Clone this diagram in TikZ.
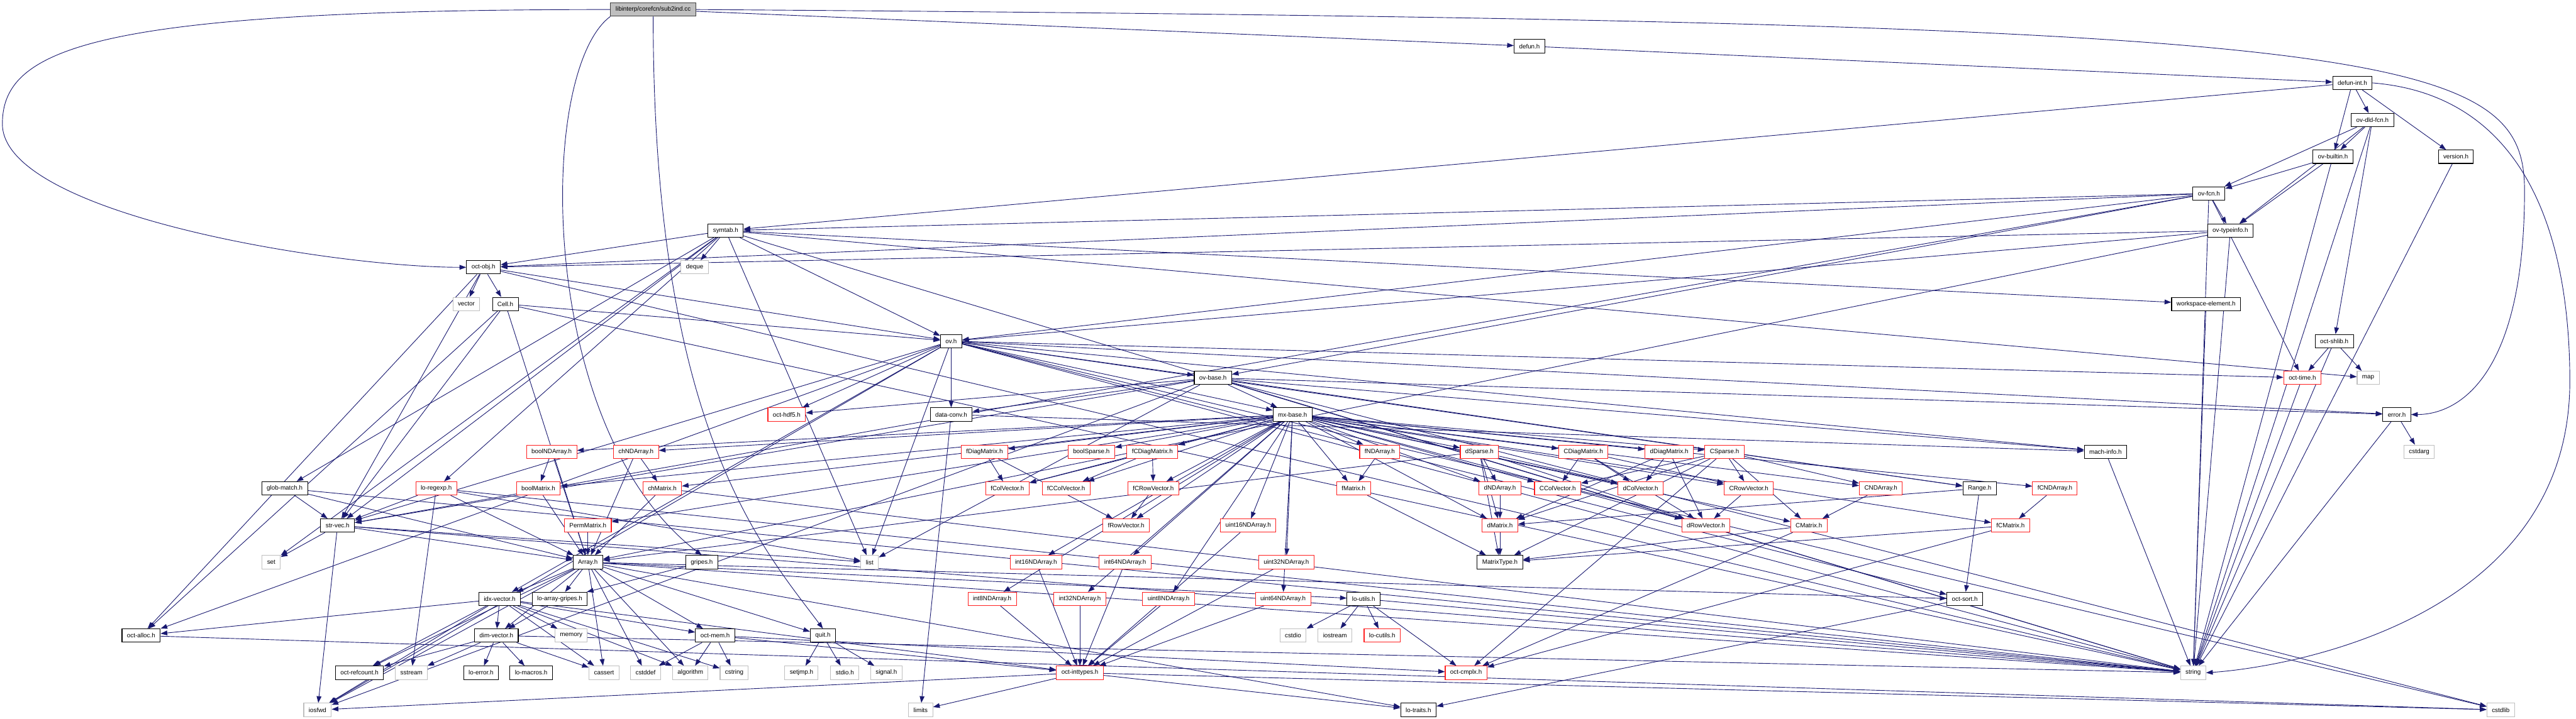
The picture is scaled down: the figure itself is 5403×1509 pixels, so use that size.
\documentclass[tikz,border=0pt]{standalone}
\usepackage{fontspec}
\newfontfamily\graphfont{Liberation Sans}
\usetikzlibrary{arrows.meta}
\definecolor{edgeblue}{HTML}{191970}
\definecolor{sysgrey}{HTML}{BFBFBF}
\definecolor{rootgrey}{HTML}{BFBFBF}
\definecolor{rootframe}{HTML}{404040}
\definecolor{truncred}{HTML}{FF2020}
\pgfdeclarelayer{background}
\pgfsetlayers{background,main}
\tikzset{
  hdr/.style={rectangle,draw=black,line width=1.4pt,fill=white,minimum height=28pt,inner xsep=10.5pt,inner ysep=0pt,font=\graphfont\fontsize{13}{15}\selectfont},
  trunc/.style={hdr,draw=truncred},
  sysh/.style={hdr,draw=sysgrey},
  rootfile/.style={hdr,fill=rootgrey,draw=rootframe},
  dep/.style={draw=edgeblue,line width=1.2pt,-{Triangle[length=14pt,width=10pt]}}
}
\begin{document}
\begin{tikzpicture}[x=1pt,y=-1pt]
  \useasboundingbox (0,0) rectangle (5403,1509);
  \node[rootfile] (root) at (1370,20) {libinterp/corefcn/sub2ind.cc};
  \node[hdr] (defun) at (3208,97) {defun.h};
  \node[hdr] (defunint) at (4934,174) {defun-int.h};
  \node[hdr] (ovdld) at (4976,252) {ov-dld-fcn.h};
  \node[hdr] (ovbuiltin) at (4893,329) {ov-builtin.h};
  \node[hdr] (version) at (5151,329) {version.h};
  \node[hdr] (ovfcn) at (4633,406) {ov-fcn.h};
  \node[hdr] (symtab) at (1522,484) {symtab.h};
  \node[hdr] (ovtypeinfo) at (4678,484) {ov-typeinfo.h};
  \node[hdr] (objh) at (1014,561) {oct-obj.h};
  \node[sysh] (deque) at (1457,561) {deque};
  \node[sysh] (vector) at (978,638) {vector};
  \node[hdr] (cell) at (1060,638) {Cell.h};
  \node[hdr] (workspace) at (4627,638) {workspace-element.h};
  \node[hdr] (ov) at (1995,716) {ov.h};
  \node[hdr] (octshlib) at (4896,716) {oct-shlib.h};
  \node[hdr] (ovbase) at (2544,793) {ov-base.h};
  \node[trunc] (octtime) at (4829,793) {oct-time.h};
  \node[sysh] (map) at (4967,793) {map};
  \node[trunc] (octhdf) at (1650,870) {oct-hdf5.h};
  \node[hdr] (dataconv) at (1995,870) {data-conv.h};
  \node[hdr] (mxbase) at (2711,870) {mx-base.h};
  \node[hdr] (error) at (5027,870) {error.h};
  \node[trunc] (boolNDArray) at (1157,948) {boolNDArray.h};
  \node[trunc] (chNDArray) at (1334,948) {chNDArray.h};
  \node[trunc] (fDiagMatrix) at (2065,948) {fDiagMatrix.h};
  \node[trunc] (boolSparse) at (2289,948) {boolSparse.h};
  \node[trunc] (fCDiagMatrix) at (2417,948) {fCDiagMatrix.h};
  \node[trunc] (fNDArray) at (2894,948) {fNDArray.h};
  \node[trunc] (dSparse) at (3103,948) {dSparse.h};
  \node[trunc] (CDiagMatrix) at (3321,948) {CDiagMatrix.h};
  \node[trunc] (dDiagMatrix) at (3501,948) {dDiagMatrix.h};
  \node[trunc] (CSparse) at (3617,948) {CSparse.h};
  \node[hdr] (machinfo) at (4416,948) {mach-info.h};
  \node[sysh] (cstdarg) at (5074,948) {cstdarg};
  \node[hdr] (globmatch) at (597,1025) {glob-match.h};
  \node[trunc] (loregexp) at (915,1025) {lo-regexp.h};
  \node[trunc] (boolMatrix) at (1129,1025) {boolMatrix.h};
  \node[trunc] (chMatrix) at (1389,1025) {chMatrix.h};
  \node[trunc] (fColVector) at (2113,1025) {fColVector.h};
  \node[trunc] (fCColVector) at (2236,1025) {fCColVector.h};
  \node[trunc] (fCRowVector) at (2419,1025) {fCRowVector.h};
  \node[trunc] (fMatrix) at (2839,1025) {fMatrix.h};
  \node[trunc] (dNDArray) at (3146,1025) {dNDArray.h};
  \node[trunc] (CColVector) at (3267,1025) {CColVector.h};
  \node[trunc] (dColVector) at (3441,1025) {dColVector.h};
  \node[trunc] (CRowVector) at (3668,1025) {CRowVector.h};
  \node[trunc] (CNDArray) at (3945,1025) {CNDArray.h};
  \node[hdr] (range) at (4152,1025) {Range.h};
  \node[trunc] (fCNDArray) at (4310,1025) {fCNDArray.h};
  \node[hdr] (strvec) at (708,1103) {str-vec.h};
  \node[trunc] (PermMatrix) at (1233,1103) {PermMatrix.h};
  \node[trunc] (fRowVector) at (2362,1103) {fRowVector.h};
  \node[trunc] (uintsixteen) at (2618,1103) {uint16NDArray.h};
  \node[trunc] (dMatrix) at (3146,1103) {dMatrix.h};
  \node[trunc] (dRowVector) at (3578,1103) {dRowVector.h};
  \node[trunc] (CMatrix) at (3794,1103) {CMatrix.h};
  \node[trunc] (fCMatrix) at (4217,1103) {fCMatrix.h};
  \node[sysh] (set) at (569,1180) {set};
  \node[hdr] (array) at (1233,1180) {Array.h};
  \node[hdr] (gripes) at (1472,1180) {gripes.h};
  \node[sysh] (list) at (1824,1180) {list};
  \node[trunc] (intsixteen) at (2173,1180) {int16NDArray.h};
  \node[trunc] (intsixtyfour) at (2360,1180) {int64NDArray.h};
  \node[trunc] (uintthirtytwo) at (2698,1180) {uint32NDArray.h};
  \node[hdr] (MatrixType) at (3146,1180) {MatrixType.h};
  \node[hdr] (idxvector) at (1048,1257) {idx-vector.h};
  \node[hdr] (loarraygripes) at (1174,1257) {lo-array-gripes.h};
  \node[trunc] (inteight) at (2081,1257) {int8NDArray.h};
  \node[trunc] (intthirtytwo) at (2265,1257) {int32NDArray.h};
  \node[trunc] (uinteight) at (2451,1257) {uint8NDArray.h};
  \node[trunc] (uintsixtyfour) at (2691,1257) {uint64NDArray.h};
  \node[hdr] (loutils) at (2860,1257) {lo-utils.h};
  \node[hdr] (octsort) at (4121,1257) {oct-sort.h};
  \node[hdr] (octalloc) at (296,1334) {oct-alloc.h};
  \node[hdr] (dimvector) at (1041,1334) {dim-vector.h};
  \node[sysh] (memory) at (1198,1334) {memory};
  \node[hdr] (octmem) at (1500,1334) {oct-mem.h};
  \node[hdr] (quit) at (1726,1334) {quit.h};
  \node[sysh] (cstdio) at (2712,1334) {cstdio};
  \node[sysh] (iostream) at (2800,1334) {iostream};
  \node[trunc] (locutils) at (2899,1334) {lo-cutils.h};
  \node[hdr] (octrefcount) at (754,1412) {oct-refcount.h};
  \node[sysh] (sstream) at (863,1412) {sstream};
  \node[hdr] (loerror) at (1009,1412) {lo-error.h};
  \node[hdr] (lomacros) at (1114,1412) {lo-macros.h};
  \node[sysh] (cassert) at (1267,1412) {cassert};
  \node[sysh] (cstddef) at (1354,1412) {cstddef};
  \node[sysh] (algorithm) at (1448,1412) {algorithm};
  \node[sysh] (cstring) at (1540,1412) {cstring};
  \node[sysh] (setjmp) at (1681,1412) {setjmp.h};
  \node[sysh] (stdioh) at (1772,1412) {stdio.h};
  \node[sysh] (signalh) at (1859,1412) {signal.h};
  \node[trunc] (octinttypes) at (2265,1412) {oct-inttypes.h};
  \node[trunc] (octcmplx) at (3075,1412) {oct-cmplx.h};
  \node[sysh] (string) at (4600,1412) {string};
  \node[sysh] (iosfwd) at (666,1490) {iosfwd};
  \node[sysh] (limits) at (1931,1490) {limits};
  \node[hdr] (lotraits) at (2975,1490) {lo-traits.h};
  \node[sysh] (cstdlib) at (5245,1490) {cstdlib};
  \coordinate (rbend) at (5295,400);
  \coordinate (lbend) at (5,260);
  \coordinate (sbend) at (5390,800);
  \begin{pgfonlayer}{background}
    \draw[dep] (root.east) .. controls (5000,45) and (5295,100) .. (rbend) .. controls (5295,800) and (5150,870) .. (error.east);
    \draw[dep] (root.west) .. controls (200,20) and (5,100) .. (lbend) .. controls (5,450) and (700,561) .. (objh.west);
    \draw[dep] (root.south west) .. controls (1125,150) and (1125,900) .. (gripes.north);
    \draw[dep] (root.south) .. controls (1370,900) and (1600,1150) .. (quit.north);
    \draw[dep] (defunint.east) .. controls (5300,200) and (5390,500) .. (sbend) .. controls (5390,1300) and (4800,1400) .. (string.east);
    \begin{scope}[every edge/.style={dep}]
      \path (root) edge (defun);
      \path (defun) edge (defunint);
      \path (defunint) edge (ovbuiltin) edge (ovdld) edge (version) edge (symtab);
      \path (ovdld) edge (ovfcn) edge (ovbuiltin) edge (ovtypeinfo) edge (octshlib) edge (string);
      \path (ovbuiltin) edge (ovfcn) edge (ovtypeinfo) edge (string);
      \path (version) edge (string);
      \path (ovfcn) edge (symtab) edge (objh) edge (ov) edge (strvec) edge (octtime) edge (ovtypeinfo) edge (ovbase) edge (string);
      \path (ovtypeinfo) edge (array) edge (objh) edge (ov) edge (string);
      \path (symtab) edge (deque) edge (list) edge (map) edge (set) edge (string) edge (globmatch) edge (loregexp) edge (strvec) edge (objh) edge (ov) edge (workspace);
      \path (workspace) edge (string);
      \path (octshlib) edge (octtime) edge (map) edge (string);
      \path (objh) edge (vector) edge (cell) edge (ov) edge (strvec) edge (octalloc) edge (string);
      \path (cell) edge (array) edge (ov) edge (strvec) edge (octalloc) edge (string);
      \path (ov) edge (ovbase) edge (dataconv) edge (mxbase) edge (octhdf) edge (octtime) edge (range) edge (idxvector) edge (machinfo) edge (strvec) edge (octalloc) edge (octsort) edge (string) edge (list) edge (iosfwd) edge (cstdlib) edge (error);
      \path (ovbase) edge (octhdf) edge (dataconv) edge (mxbase) edge (range) edge (strvec) edge (error) edge (machinfo) edge (string) edge (list) edge (iosfwd) edge (cstdlib);
      \path (dataconv) edge (limits) edge (machinfo);
      \path (mxbase) edge (boolMatrix) edge (boolNDArray) edge (chMatrix) edge (chNDArray) edge (fDiagMatrix) edge (boolSparse) edge (fCDiagMatrix) edge (fNDArray) edge (dSparse) edge (CDiagMatrix) edge (dDiagMatrix) edge (CSparse) edge (fColVector) edge (fCColVector) edge (fCRowVector) edge (fMatrix) edge (dNDArray) edge (CColVector) edge (dColVector) edge (CRowVector) edge (CNDArray) edge (fCNDArray) edge (PermMatrix) edge (fRowVector) edge (uintsixteen) edge (dMatrix) edge (dRowVector) edge (CMatrix) edge (fCMatrix) edge (intsixteen) edge (intsixtyfour) edge (uintthirtytwo) edge (inteight) edge (intthirtytwo) edge (uinteight) edge (uintsixtyfour);
      \path (error) edge (cstdarg) edge (string);
      \path (machinfo) edge (string);
      \path (octtime) edge (string);
      \path (boolNDArray) edge (boolMatrix) edge (array);
      \path (chNDArray) edge (chMatrix) edge (array);
      \path (boolMatrix) edge (array);
      \path (chMatrix) edge (array) edge (string);
      \path (PermMatrix) edge (array);
      \path (fDiagMatrix) edge (fColVector) edge (fRowVector);
      \path (fCDiagMatrix) edge (fColVector) edge (fCColVector) edge (fCRowVector);
      \path (fNDArray) edge (fMatrix);
      \path (dSparse) edge (dNDArray) edge (dMatrix) edge (dColVector) edge (dRowVector) edge (MatrixType) edge (array);
      \path (CDiagMatrix) edge (CColVector) edge (dColVector) edge (CRowVector) edge (dRowVector);
      \path (dDiagMatrix) edge (dColVector) edge (dRowVector) edge (dMatrix);
      \path (CSparse) edge (CMatrix) edge (CNDArray) edge (CColVector) edge (CRowVector) edge (dMatrix) edge (MatrixType) edge (octcmplx);
      \path (fMatrix) edge (MatrixType);
      \path (dNDArray) edge (dMatrix);
      \path (dMatrix) edge (MatrixType);
      \path (CRowVector) edge (dRowVector);
      \path (CNDArray) edge (CMatrix);
      \path (CMatrix) edge (MatrixType) edge (octcmplx);
      \path (fCNDArray) edge (fCMatrix);
      \path (fCMatrix) edge (MatrixType) edge (octcmplx);
      \path (fCRowVector) edge (fRowVector);
      \path (range) edge (octsort) edge (dMatrix);
      \path (octsort) edge (lotraits);
      \path (intsixteen) edge (octinttypes);
      \path (intsixtyfour) edge (octinttypes);
      \path (uintsixteen) edge (octinttypes);
      \path (uintthirtytwo) edge (octinttypes);
      \path (inteight) edge (octinttypes);
      \path (intthirtytwo) edge (octinttypes);
      \path (uinteight) edge (octinttypes);
      \path (uintsixtyfour) edge (octinttypes);
      \path (loregexp) edge (strvec) edge (array) edge (sstream) edge (list) edge (string);
      \path (globmatch) edge (strvec) edge (array) edge (string);
      \path (strvec) edge (array) edge (set) edge (iosfwd) edge (list) edge (string);
      \path (array) edge (idxvector) edge (loarraygripes) edge (dimvector) edge (octrefcount) edge (cassert) edge (cstddef) edge (algorithm) edge (iosfwd) edge (loutils) edge (octsort) edge (quit) edge (octmem) edge (lotraits) edge (string);
      \path (gripes) edge (loarraygripes);
      \path (idxvector) edge (dimvector) edge (octalloc) edge (octrefcount) edge (memory) edge (cassert) edge (algorithm) edge (cstring) edge (octinttypes) edge (octmem) edge (iosfwd);
      \path (loarraygripes) edge (dimvector);
      \path (dimvector) edge (octrefcount) edge (sstream) edge (loerror) edge (lomacros) edge (cassert) edge (string);
      \path (octmem) edge (cstddef) edge (algorithm) edge (cstring) edge (octinttypes) edge (octcmplx);
      \path (quit) edge (setjmp) edge (stdioh) edge (signalh);
      \path (loutils) edge (cstdio) edge (iostream) edge (locutils) edge (octcmplx) edge (string);
      \path (octinttypes) edge (limits) edge (lotraits) edge (iosfwd) edge (cstdlib);
      \path (octalloc) edge (cstdlib);
    \end{scope}
  \end{pgfonlayer}
\end{tikzpicture}
\end{document}
